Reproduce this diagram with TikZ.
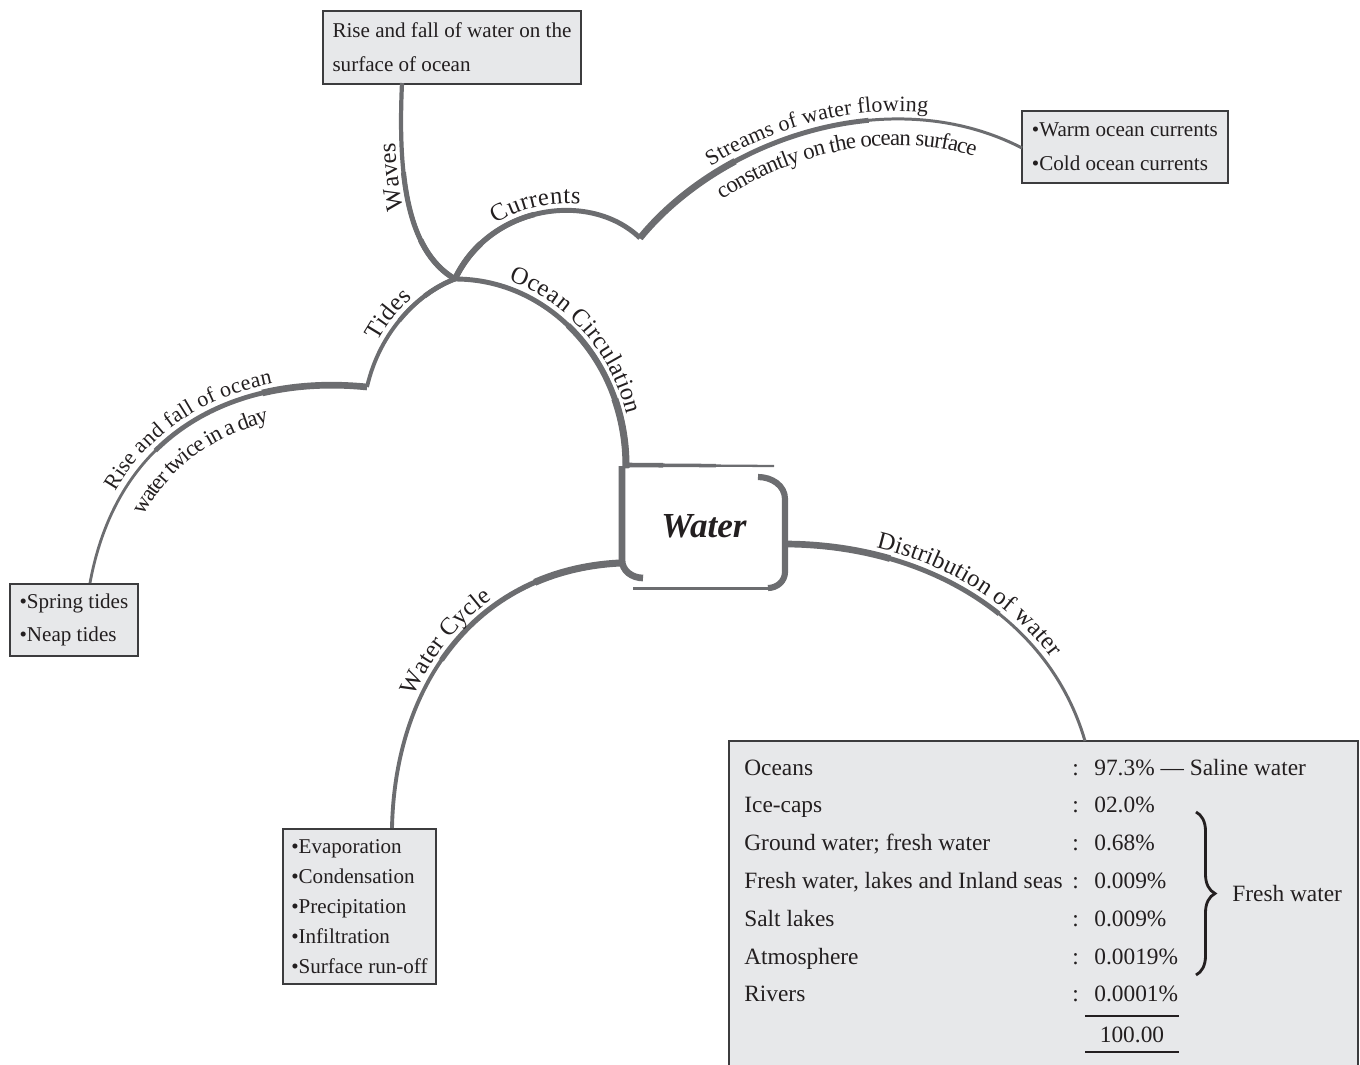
\documentclass[tikz,border=0pt]{standalone}
\usepackage{fontspec}
\setmainfont{Liberation Serif}
\usetikzlibrary{decorations.text,decorations.pathreplacing}
\definecolor{brgray}{RGB}{108,109,112}
\definecolor{boxfill}{RGB}{231,232,234}
\definecolor{boxline}{RGB}{60,60,62}
\definecolor{ink}{RGB}{35,31,32}
\newcommand\mainlbl{\fontsize{14}{16}\selectfont}
\newcommand\sublbl{\fontsize{12.5}{15}\selectfont}
\newcommand\sublblb{\fontsize{13}{15}\selectfont}
\tikzset{
  tap/.style n args={5}{draw=brgray, line width=#1,
    preaction={draw=brgray, line width=#2, dash pattern=on #3 off 3000pt},
    preaction={draw=brgray, line width=#4, dash pattern=on #5 off 3000pt}},
  box/.style={draw=boxline, fill=boxfill, line width=1.1pt, align=left, text=ink, inner sep=0pt, anchor=north west},
  trow/.style={anchor=base west, inner sep=0pt, text=ink, font=\fontsize{13.3}{16}\selectfont},
  lbl/.style n args={3}{decorate, decoration={text along path, text={#1}, text align={#2}, raise=#3, text color=ink}}
}
\begin{document}
\begin{tikzpicture}[x=0.02cm, y=-0.02cm]
\useasboundingbox (0,0) rectangle (1360,1065);

% ---------- boxes ----------
\node[box, minimum width=5.16cm, minimum height=1.46cm, font=\fontsize{12}{19.3}\selectfont] (topbox) at (322,10)
  {Rise and fall of water on the\\surface of ocean};
\node[box, minimum width=4.12cm, minimum height=1.44cm, font=\fontsize{12}{19.3}\selectfont] (curbox) at (1021,110)
  {\textbullet Warm ocean currents\\\textbullet Cold ocean currents};
\node[box, minimum width=2.56cm, minimum height=1.44cm, font=\fontsize{12}{18.7}\selectfont] (tidebox) at (9,583)
  {\textbullet Spring tides\\\textbullet Neap tides};
\node[box, minimum width=3.06cm, minimum height=3.1cm, font=\fontsize{12}{17}\selectfont] (wcbox) at (282,828)
  {\textbullet Evaporation\\\textbullet Condensation\\\textbullet Precipitation\\\textbullet Infiltration\\\textbullet Surface run-off};

% ---------- table ----------
\node[fill=boxfill, minimum width=12.58cm, minimum height=6.48cm, anchor=north west, inner sep=0pt, outer sep=0pt] (tbl) at (729,741) {};
\draw[boxline, line width=1.1pt] (tbl.south west) -- (tbl.north west) -- (tbl.north east) -- (tbl.south east);

\node[trow] (l1) at (744,775) {Oceans};
\node[trow] (c1) at (1072,775) {:};
\node[trow] (v1) at (1094,775) {97.3\% — Saline water};
\node[trow] (l2) at (744,812) {Ice-caps};
\node[trow] (c2) at (1072,812) {:};
\node[trow] (v2) at (1094,812) {02.0\%};
\node[trow] (l3) at (744,850) {Ground water; fresh water};
\node[trow] (c3) at (1072,850) {:};
\node[trow] (v3) at (1094,850) {0.68\%};
\node[trow] (l4) at (744,888) {Fresh water, lakes and Inland seas};
\node[trow] (c4) at (1072,888) {:};
\node[trow] (v4) at (1094,888) {0.009\%};
\node[trow] (l5) at (744,926) {Salt lakes};
\node[trow] (c5) at (1072,926) {:};
\node[trow] (v5) at (1094,926) {0.009\%};
\node[trow] (l6) at (744,964) {Atmosphere};
\node[trow] (c6) at (1072,964) {:};
\node[trow] (v6) at (1094,964) {0.0019\%};
\node[trow] (l7) at (744,1001) {Rivers};
\node[trow] (c7) at (1072,1001) {:};
\node[trow] (v7) at (1094,1001) {0.0001\%};
\node[trow, anchor=base] (tot) at (1132,1042) {100.00};
\draw[ink, line width=1.2pt] (1085,1016) -- (1179,1016);
\draw[ink, line width=1.2pt] (1085,1052) -- (1179,1052);
\draw[ink, line width=1.6pt, decorate, decoration={brace, amplitude=0.38cm}] (1196,812) -- (1196,975);
\node[trow, anchor=west] (fw) at (1232,893) {Fresh water};

% ---------- centre ----------
\node[font=\fontsize{20}{24}\selectfont\bfseries\itshape, text=ink, inner sep=0pt] (water) at (704,526) {Water};
\draw[brgray, line width=3.8pt] (622,466) -- (622,560) to[out=-90,in=180] (643,578);
\draw[tap={1.3pt}{2pt}{50pt}{2.6pt}{20pt}] (628,465) -- (774,466);
\draw[brgray, line width=3.5pt] (758,477) to[out=0,in=90] (785,499) -- (785,572) to[out=-90,in=0] (768,588);
\draw[brgray, line width=2pt] (633,588.5) -- (770,588.5);

% ---------- junction coordinates ----------
\coordinate (J) at (455,279);
\coordinate (V1) at (640,238);
\coordinate (V2) at (367,387);
\coordinate (ocW) at (626,468);
\coordinate (wcW) at (620,563);
\coordinate (dwW) at (786,544);
\coordinate (wvT) at (402,83);
\coordinate (cuT) at (1022,148);
\coordinate (tdT) at (90,583);
\coordinate (wcT) at (392,828);
\coordinate (dwT) at (1085,741);

% ---------- branches ----------
\draw[tap={2.8pt}{3.4pt}{90pt}{4pt}{40pt}] (ocW) .. controls (627,363) and (550,279) .. (J);
\draw[tap={2.4pt}{2.9pt}{70pt}{3.2pt}{30pt}] (J) .. controls (405,250) and (398,170) .. (wvT);
\draw[tap={2.8pt}{3.1pt}{60pt}{3.4pt}{25pt}] (J) .. controls (490,205) and (590,190) .. (V1);
\draw[tap={1.7pt}{2.8pt}{150pt}{3.8pt}{70pt}] (V1) .. controls (720,140) and (890,80) .. (cuT);
\draw[tap={2.2pt}{2.5pt}{40pt}{2.8pt}{20pt}] (J) .. controls (420,292) and (380,330) .. (V2);
\draw[tap={1.6pt}{2.7pt}{130pt}{3.8pt}{60pt}] (V2) .. controls (250,375) and (120,420) .. (tdT);
\draw[tap={2.2pt}{3pt}{120pt}{4pt}{50pt}] (wcW) .. controls (480,570) and (395,680) .. (wcT);
\draw[tap={1.7pt}{2.8pt}{130pt}{3.8pt}{60pt}] (dwW) .. controls (930,545) and (1050,620) .. (dwT);

% ---------- curved labels ----------
\path[lbl={|\mainlbl|Ocean Circulation}{center}{4pt}] (J) .. controls (550,279) and (627,363) .. (ocW);
\path[lbl={|\mainlbl|Waves}{left indent=49pt}{3.5pt}] (J) .. controls (405,250) and (398,170) .. (wvT);
\path[lbl={|\mainlbl|Currents}{left indent=38pt}{4pt}] (J) .. controls (490,205) and (590,190) .. (V1);
\path[lbl={|\sublbl|Streams of water flowing}{center}{4.5pt}] (V1) .. controls (720,140) and (890,80) .. (cuT);
\path[lbl={|\sublblb|constantly on the ocean surface}{left indent=52pt}{-15pt}] (V1) .. controls (720,140) and (890,80) .. (cuT);
\path[lbl={|\mainlbl|Tides}{center}{3.5pt}] (V2) .. controls (380,330) and (420,292) .. (J);
\path[lbl={|\sublbl|Rise and fall of ocean}{center}{4pt}] (tdT) .. controls (120,420) and (250,375) .. (V2);
\path[lbl={|\sublblb|water twice in a day}{left indent=50pt}{-17pt}] (tdT) .. controls (120,420) and (250,375) .. (V2);
\path[lbl={|\mainlbl|Water Cycle}{center}{3.5pt}] (wcT) .. controls (395,680) and (480,570) .. (wcW);
\path[lbl={|\mainlbl|Distribution of water}{center}{4pt}] (dwW) .. controls (930,545) and (1050,620) .. (dwT);
\end{tikzpicture}
\end{document}
